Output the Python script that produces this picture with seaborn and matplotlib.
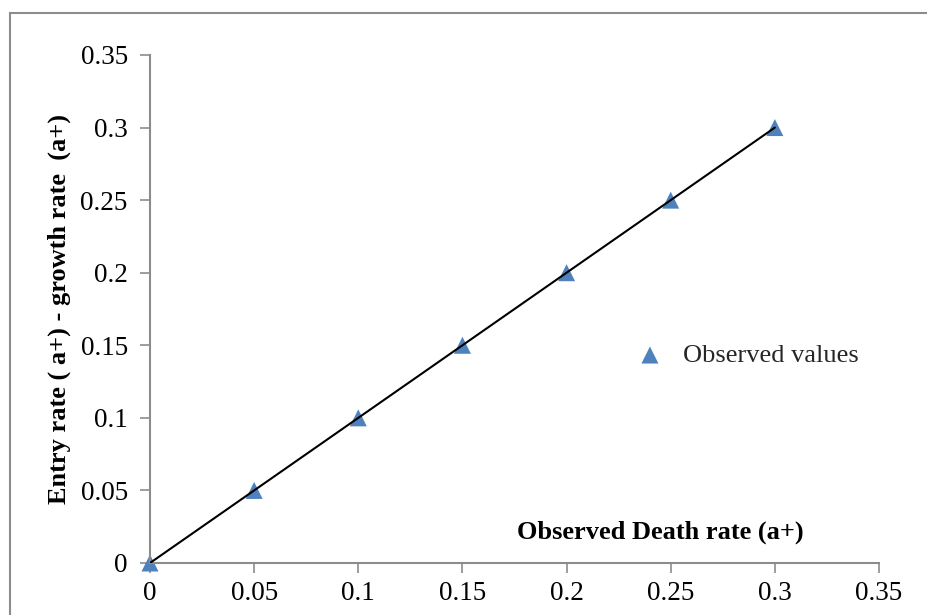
import matplotlib
matplotlib.use("Agg")
import matplotlib.pyplot as plt
import seaborn as sns
import pandas as pd
from matplotlib.patches import Rectangle

# Observed rates
death_rate = [0, 0.05, 0.1, 0.15, 0.2, 0.25, 0.3]
entry_minus_growth = [0, 0.05, 0.1, 0.15, 0.2, 0.25, 0.3]

# Fitted line end points
fit_x = [0, 0.3]
fit_y = [0, 0.3]

tick_vals = [0, 0.05, 0.1, 0.15, 0.2, 0.25, 0.3, 0.35]
tick_labels = ["0", "0.05", "0.1", "0.15", "0.2", "0.25", "0.3", "0.35"]

df = pd.DataFrame({"death": death_rate, "entry": entry_minus_growth})
fit = pd.DataFrame({"x": fit_x, "y": fit_y})

sns.set_theme(style="white")
plt.rcParams["font.family"] = ["Liberation Serif", "DejaVu Serif"]

fig = plt.figure(figsize=(9.28, 6.15), dpi=100)
ax = fig.add_axes([150 / 928, 1 - 563 / 615, 729 / 928, 508 / 615])

# Outer chart frame
fig.patches.append(Rectangle((10 / 928, -0.05), 1.0, 1 - 13 / 615 + 0.05,
                             transform=fig.transFigure, fill=False,
                             edgecolor="#8c8c8c", linewidth=1.5))

sns.lineplot(data=fit, x="x", y="y", ax=ax, color="black", linewidth=1.5,
             legend=False, zorder=3)
sns.scatterplot(data=df, x="death", y="entry", ax=ax, marker="^", s=150,
                color="#4F81BD", edgecolor="none", zorder=2, clip_on=False,
                label="Observed values")

ax.set_xlim(0, 0.35)
ax.set_ylim(0, 0.35)
ax.set_xticks(tick_vals)
ax.set_xticklabels(tick_labels)
ax.set_yticks(tick_vals)
ax.set_yticklabels(tick_labels)
ax.tick_params(axis="both", direction="out", length=7, width=1.2,
               color="#8c8c8c", labelsize=19.5, pad=9, bottom=True, left=True,
               labelcolor="black")
ax.tick_params(axis="x", pad=6)

for side in ["top", "right"]:
    ax.spines[side].set_visible(False)
for side in ["left", "bottom"]:
    ax.spines[side].set_color("#8c8c8c")
    ax.spines[side].set_linewidth(1.5)

ax.set_xlabel("")
ax.set_ylabel("Entry rate ( a+) - growth rate  (a+)", fontsize=19,
              fontweight="bold", labelpad=7, color="black")
ax.text(0.245, 0.0214, "Observed Death rate (a+)", fontsize=19,
        fontweight="bold", ha="center", va="center", color="black")

ax.legend(loc="center left", bbox_to_anchor=(0.617, 0.409), frameon=False,
          fontsize=19, handletextpad=0.25, markerscale=1.0)

fig.savefig("out.png", dpi=100)
